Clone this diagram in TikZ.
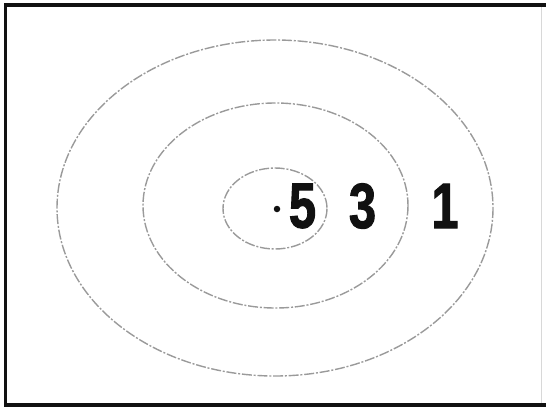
\documentclass[tikz,border=0pt]{standalone}
\usepackage{fontspec}
\usepackage{xcolor}
\usepackage{tikz}
\newfontfamily\digitfont[FakeStretch=0.76, BoldFeatures={FakeBold=1.6}]{Liberation Sans}
\definecolor{ink}{HTML}{111111}
\definecolor{ring}{HTML}{9A9A9A}
\definecolor{edge}{HTML}{D8D8D8}
\tikzset{
  frame/.style    = {draw=ink, line width=3.6pt},
  ringline/.style = {draw=ring, line width=1.4pt,
                     dash pattern=on 10pt off 1.8pt on 2pt off 1.8pt},
  score/.style    = {inner sep=0pt, text=ink,
                     font=\digitfont\bfseries\fontsize{64}{64}\selectfont},
  centre/.style   = {circle, fill=ink, inner sep=0pt, minimum size=6.5pt},
}
\begin{document}
\begin{tikzpicture}[x=1pt, y=-1pt]
  \useasboundingbox (0,0) rectangle (546,410);

  % frame, cut off on the right
  \draw[frame] (546,4.8) -- (5.3,4.8) -- (5.3,405.2) -- (546,405.2);
  \draw[edge, line width=0.8pt] (541,7) -- (541,403);

  % rings
  \draw[ringline] (275,208) ellipse [x radius=218, y radius=168];
  \draw[ringline] (275.5,205.5) ellipse [x radius=132.5, y radius=102.5];
  \draw[ringline] (275,208.5) ellipse [x radius=52, y radius=40.5];

  % centre and scores
  \node[centre] (mid) at (277,209) {};
  \node[score] (five)  at (302.5,206) {5};
  \node[score] (three) at (362.5,206) {3};
  \node[score] (one)   at (445,206) {1};

\end{tikzpicture}
\end{document}
